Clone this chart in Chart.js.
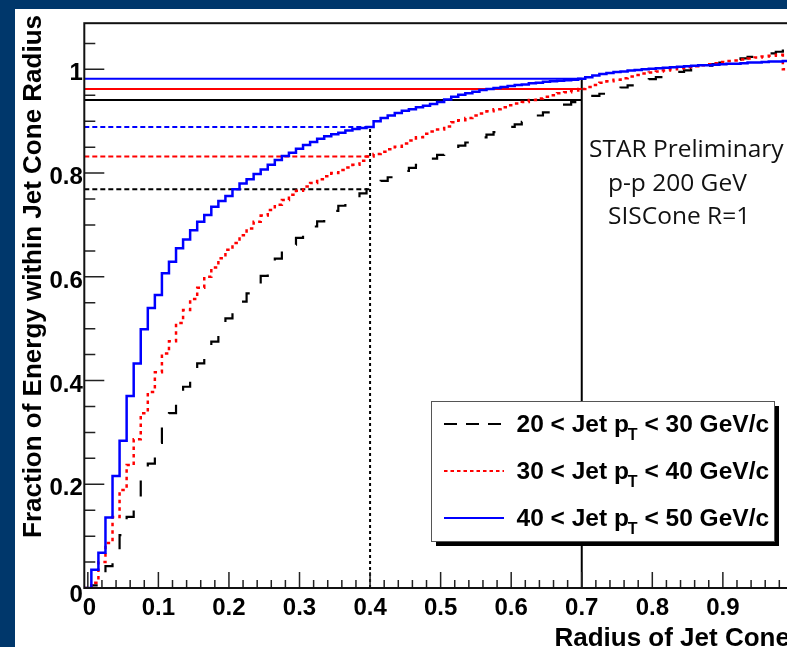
<!DOCTYPE html>
<html>
<head>
<meta charset="utf-8">
<script src="https://cdn.jsdelivr.net/npm/chart.js@4.4.1/dist/chart.umd.min.js"></script>
<style>
  html, body { margin: 0; padding: 0; width: 787px; height: 647px; overflow: hidden; background: #00376b; }
  #panel { position: absolute; left: 15px; top: 9px; width: 830px; height: 700px; background: #ffffff; overflow: hidden; }
  #c { position: absolute; left: 0; top: 0; }
</style>
</head>
<body>
<div id="panel"><canvas id="c" width="815" height="680"></canvas></div>
<script>
// Histogram binning of the jet-cone radius (100 bins of 0.01, centred on 0, 0.01, ... 0.99)
const radiusBinWidth = 0.01;
const radiusLowEdge = -0.005;

// Integrated energy fraction per radius bin, 20 < pT < 30 GeV/c
const frac20to30 = [
  0.000, 0.005, 0.020, 0.042, 0.070, 0.102, 0.137, 0.165, 0.208, 0.240,
  0.280, 0.311, 0.337, 0.362, 0.388, 0.410, 0.433, 0.455, 0.475, 0.500,
  0.520, 0.537, 0.552, 0.568, 0.585, 0.602, 0.620, 0.635, 0.650, 0.662,
  0.675, 0.686, 0.697, 0.707, 0.717, 0.727, 0.737, 0.745, 0.753, 0.761,
  0.769, 0.777, 0.785, 0.792, 0.798, 0.804, 0.810, 0.816, 0.822, 0.828,
  0.835, 0.841, 0.847, 0.853, 0.859, 0.864, 0.869, 0.874, 0.879, 0.884,
  0.889, 0.894, 0.899, 0.905, 0.911, 0.917, 0.922, 0.927, 0.932, 0.937,
  0.941, 0.945, 0.949, 0.953, 0.957, 0.961, 0.965, 0.969, 0.973, 0.977,
  0.981, 0.985, 0.989, 0.992, 0.995, 0.998, 1.001, 1.004, 1.007, 1.010,
  1.013, 1.015, 1.018, 1.021, 1.024, 1.027, 1.029, 1.031, 1.034, 1.036
];

// 30 < pT < 40 GeV/c
const frac30to40 = [
  0.000, 0.010, 0.050, 0.087, 0.137, 0.189, 0.237, 0.287, 0.337, 0.378,
  0.416, 0.452, 0.476, 0.511, 0.536, 0.557, 0.579, 0.600, 0.618, 0.636,
  0.652, 0.665, 0.680, 0.693, 0.706, 0.718, 0.729, 0.739, 0.748, 0.758,
  0.766, 0.774, 0.781, 0.788, 0.794, 0.800, 0.806, 0.811, 0.816, 0.824,
  0.832, 0.837, 0.841, 0.846, 0.851, 0.857, 0.863, 0.869, 0.876, 0.880,
  0.884, 0.890, 0.898, 0.902, 0.906, 0.911, 0.915, 0.919, 0.923, 0.927,
  0.931, 0.934, 0.937, 0.941, 0.944, 0.947, 0.950, 0.954, 0.956, 0.959,
  0.962, 0.966, 0.970, 0.974, 0.977, 0.980, 0.983, 0.986, 0.989, 0.992,
  0.994, 0.996, 0.998, 1.000, 1.002, 1.004, 1.006, 1.008, 1.010, 1.012,
  1.014, 1.016, 1.017, 1.019, 1.021, 1.023, 1.025, 1.026, 1.028, 1.000
];

// 40 < pT < 50 GeV/c
const frac40to50 = [
  0.000, 0.035, 0.068, 0.136, 0.216, 0.284, 0.370, 0.433, 0.499, 0.540,
  0.565, 0.607, 0.629, 0.655, 0.672, 0.690, 0.706, 0.719, 0.735, 0.746,
  0.756, 0.769, 0.780, 0.788, 0.798, 0.807, 0.816, 0.825, 0.833, 0.839,
  0.847, 0.854, 0.860, 0.866, 0.871, 0.875, 0.878, 0.882, 0.885, 0.887,
  0.889, 0.900, 0.906, 0.911, 0.916, 0.920, 0.923, 0.927, 0.930, 0.933,
  0.937, 0.942, 0.947, 0.951, 0.954, 0.957, 0.960, 0.962, 0.964, 0.966,
  0.968, 0.970, 0.971, 0.973, 0.974, 0.976, 0.977, 0.978, 0.979, 0.980,
  0.982, 0.985, 0.988, 0.991, 0.993, 0.995, 0.996, 0.998, 0.999, 1.000,
  1.001, 1.002, 1.003, 1.004, 1.005, 1.006, 1.007, 1.008, 1.008, 1.009,
  1.010, 1.011, 1.011, 1.012, 1.013, 1.013, 1.014, 1.015, 1.015, 1.016
];

const ptRanges = [[20, 30], [30, 40], [40, 50]];
const seriesColors = ['#000000', '#ff0000', '#0000ff'];
const seriesDashes = [[16, 21], [3.5, 4], []];
const legendDashes = [[13, 9], [3.5, 3], []];

const dashedRadius = 0.4;
const solidRadius = 0.7;

const xTickValues = [0, 0.1, 0.2, 0.3, 0.4, 0.5, 0.6, 0.7, 0.8, 0.9];
const xTickLabels = ['0', '0.1', '0.2', '0.3', '0.4', '0.5', '0.6', '0.7', '0.8', '0.9'];
const yTickValues = [0, 0.2, 0.4, 0.6, 0.8, 1];
const yTickLabels = ['0', '0.2', '0.4', '0.6', '0.8', '1'];

const annotationLines = ['STAR Preliminary', 'p-p 200 GeV', 'SISCone R=1'];
const xTitle = 'Radius of Jet Cone';
const yTitle = 'Fraction of Energy within Jet Cone Radius';

// ---------------------------------------------------------------------------
const allSeries = [frac20to30, frac30to40, frac40to50];
const xMin = radiusLowEdge;
const xMax = radiusLowEdge + frac20to30.length * radiusBinWidth;
const binOf = r => Math.round((r - radiusLowEdge) / radiusBinWidth - 0.5);

function histPoints(vals) {
  const pts = vals.map((v, i) => ({ x: radiusLowEdge + i * radiusBinWidth, y: v }));
  pts.push({ x: xMax, y: vals[vals.length - 1] });
  return pts;
}

const datasets = [];
allSeries.forEach((vals, k) => {
  datasets.push({
    data: histPoints(vals), stepped: 'before',
    borderColor: seriesColors[k], borderDash: seriesDashes[k],
    borderWidth: k === 0 ? 2.2 : 2.5, order: 2 - k
  });
});
// reference lines at the two radii
const topAt = r => Math.max(...allSeries.map(s => s[binOf(r)]));
allSeries.forEach((vals, k) => {
  const v7 = vals[binOf(solidRadius)];
  datasets.push({ data: [{ x: xMin, y: v7 }, { x: solidRadius, y: v7 }],
    borderColor: seriesColors[k], borderWidth: 2, order: 5 });
  const v4 = vals[binOf(dashedRadius)];
  datasets.push({ data: [{ x: xMin, y: v4 }, { x: dashedRadius, y: v4 }],
    borderColor: seriesColors[k], borderWidth: 2, borderDash: [5, 3], order: 5 });
});
datasets.push({ data: [{ x: solidRadius, y: 0 }, { x: solidRadius, y: topAt(solidRadius) }],
  borderColor: '#000', borderWidth: 2, order: 6 });
datasets.push({ data: [{ x: dashedRadius, y: 0 }, { x: dashedRadius, y: topAt(dashedRadius) }],
  borderColor: '#000', borderWidth: 2, borderDash: [3, 3], order: 6 });

const BOLD = '"Liberation Sans", Arial, Helvetica, sans-serif';

function putText(ctx, text, x, y, align) {
  ctx.textAlign = align || 'left';
  ctx.fillText(text, x, y);
}

const decorations = {
  id: 'decorations',
  afterDatasetsDraw(chart) {
    const { ctx, chartArea: a, scales: { x, y } } = chart;
    ctx.save();
    // axis ticks drawn inward
    ctx.strokeStyle = '#222';
    ctx.lineWidth = 1.5;
    ctx.beginPath();
    for (let i = 0; i <= 49; i++) {
      const px = x.getPixelForValue(i * 0.02);
      const len = i % 5 === 0 ? 16 : 8;
      ctx.moveTo(px, a.bottom); ctx.lineTo(px, a.bottom - len);
    }
    for (let i = 0; i <= 21; i++) {
      const py = y.getPixelForValue(i * 0.05);
      const len = i % 4 === 0 ? 20 : 11;
      ctx.moveTo(a.left, py); ctx.lineTo(a.left + len, py);
    }
    ctx.stroke();
    // frame
    ctx.strokeStyle = '#111';
    ctx.lineWidth = 2;
    ctx.strokeRect(a.left, a.top, a.right - a.left, a.bottom - a.top);

    // tick labels
    ctx.fillStyle = '#000';
    ctx.textBaseline = 'alphabetic';
    ctx.font = 'bold 24px ' + BOLD;
    xTickValues.forEach((v, i) => {
      putText(ctx, xTickLabels[i], x.getPixelForValue(v) + (i === 0 ? 1.5 : 0), a.bottom + 26.5, 'center');
    });
    yTickValues.forEach((v, i) => {
      putText(ctx, yTickLabels[i], a.left - 1.5, y.getPixelForValue(v) + (i === 0 ? 13.5 : 11), 'right');
    });

    // legend box with drop shadow
    const lx = 416, ly = 392, lw = 343, lh = 140;
    ctx.fillStyle = '#000';
    ctx.fillRect(lx + 5, ly + 5, lw, lh);
    ctx.fillStyle = '#fff';
    ctx.fillRect(lx, ly, lw, lh);
    ctx.strokeStyle = '#555';
    ctx.lineWidth = 1;
    ctx.strokeRect(lx + 0.5, ly + 0.5, lw, lh);
    ptRanges.forEach(([lo, hi], k) => {
      const rowY = 415 + k * 47;
      ctx.beginPath();
      ctx.setLineDash(legendDashes[k]);
      ctx.strokeStyle = seriesColors[k];
      ctx.lineWidth = 2;
      ctx.moveTo(429, rowY); ctx.lineTo(489, rowY);
      ctx.stroke();
      ctx.setLineDash([]);
      ctx.fillStyle = '#000';
      ctx.textAlign = 'left';
      const base = rowY + 8;
      ctx.font = 'bold 24.5px ' + BOLD;
      const head = lo + ' < Jet p';
      ctx.fillText(head, 501.5, base);
      let cx = 501.5 + ctx.measureText(head).width;
      ctx.font = 'bold 16px ' + BOLD;
      ctx.fillText('T', cx - 1, base + 8);
      cx += ctx.measureText('T').width - 1;
      ctx.font = 'bold 24.5px ' + BOLD;
      ctx.fillText(' < ' + hi + ' GeV/c', cx, base);
    });

    // experiment annotation
    ctx.fillStyle = '#111';
    ctx.font = '24.5px "Open Sans", "Noto Sans", sans-serif';
    const ann = [[574, 148], [593, 182], [593, 215]];
    annotationLines.forEach((t, i) => putText(ctx, t, ann[i][0], ann[i][1], 'left'));

    // axis titles
    ctx.fillStyle = '#000';
    ctx.font = 'bold 26px ' + BOLD;
    putText(ctx, xTitle, a.right, 637, 'right');
    ctx.save();
    ctx.translate(26, 6);
    ctx.rotate(-Math.PI / 2);
    ctx.textAlign = 'right';
    ctx.fillText(yTitle, 0, 0);
    ctx.restore();
    ctx.restore();
  }
};

new Chart(document.getElementById('c'), {
  type: 'line',
  data: { datasets },
  options: {
    responsive: false,
    animation: false,
    events: [],
    layout: { padding: { left: 0, top: 14.2, right: 40.1, bottom: 0 } },
    elements: { point: { radius: 0 }, line: { tension: 0, fill: false } },
    plugins: { legend: { display: false }, tooltip: { enabled: false } },
    scales: {
      x: {
        type: 'linear', min: xMin, max: xMax,
        afterBuildTicks: s => { s.ticks = xTickValues.map(v => ({ value: v })); },
        afterFit: s => { s.height = 101; },
        grid: { display: false, drawTicks: false }, border: { display: false },
        ticks: { display: false }
      },
      y: {
        type: 'linear', min: 0, max: 1.089,
        afterBuildTicks: s => { s.ticks = yTickValues.map(v => ({ value: v })); },
        afterFit: s => { s.width = 69.3; },
        grid: { display: false, drawTicks: false }, border: { display: false },
        ticks: { display: false }
      }
    }
  },
  plugins: [decorations]
});
</script>
</body>
</html>
